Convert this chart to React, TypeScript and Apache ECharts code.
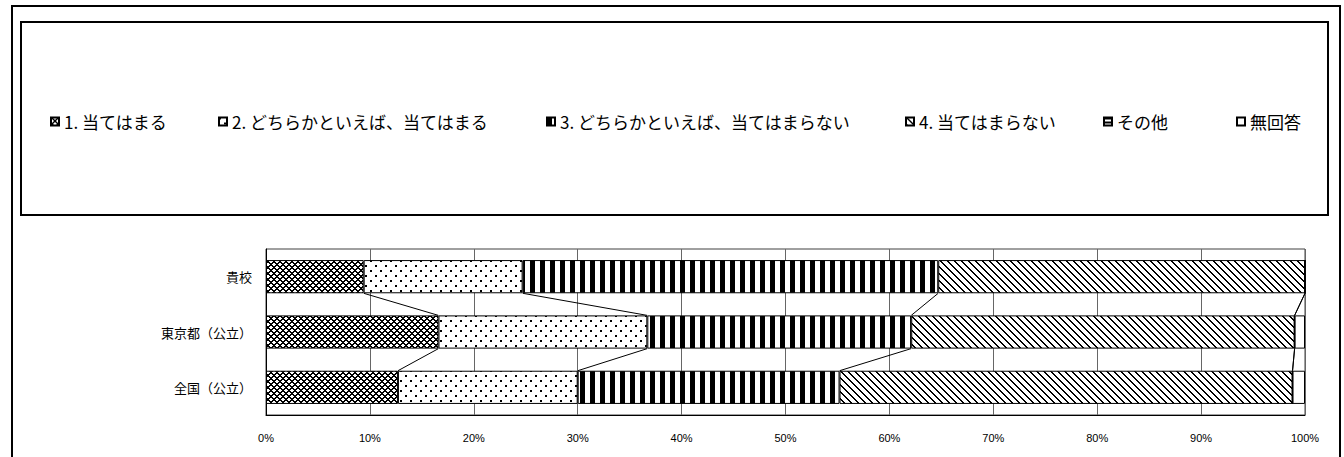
import React, { useEffect, useRef } from "react";
import * as echarts from "echarts";

const categories = ["貴校", "東京都（公立）", "全国（公立）"];
const seriesNames = [
  "1. 当てはまる",
  "2. どちらかといえば、当てはまる",
  "3. どちらかといえば、当てはまらない",
  "4. 当てはまらない",
  "その他",
  "無回答",
];
const s1 = [9.4, 16.6, 12.7];
const s2 = [15.3, 20.1, 17.3];
const s3 = [40.0, 25.4, 25.2];
const s4 = [35.3, 36.9, 43.6];
const s5 = [0, 0, 0];
const s6 = [0, 1.0, 1.2];
const seriesValues = [s1, s2, s3, s4, s5, s6];

function makePattern(w: number, h: number, fn: (x: number, y: number) => boolean) {
  const c = document.createElement("canvas");
  c.width = w;
  c.height = h;
  const ctx = c.getContext("2d")!;
  ctx.fillStyle = "#fff";
  ctx.fillRect(0, 0, w, h);
  ctx.fillStyle = "#000";
  for (let y = 0; y < h; y++)
    for (let x = 0; x < w; x++) if (fn(x, y)) ctx.fillRect(x, y, 1, 1);
  return { image: c, repeat: "repeat" as const };
}

export default function App() {
  const ref = useRef<HTMLDivElement>(null);
  useEffect(() => {
    if (!ref.current) return;
    const chart = echarts.init(ref.current, undefined, { renderer: "svg" });

    const patterns = [
      makePattern(6, 6, (x, y) => (x + y) % 6 < 2 || (x - y + 12) % 6 < 2),
      makePattern(10, 10, (x, y) => (x < 2 && y < 2) || (x >= 5 && x < 7 && y >= 5 && y < 7)),
      makePattern(10, 4, (x) => x < 5),
      makePattern(7, 7, (x, y) => (x - y + 14) % 7 < 2),
      makePattern(4, 4, (x, y) => y < 2),
      "#ffffff",
    ];

    const legendLefts = [50, 218, 546, 905, 1103, 1236];

    const lineData: number[][] = [];
    for (let i = 0; i < categories.length - 1; i++) {
      let cA = 0;
      let cB = 0;
      for (let k = 0; k < 5; k++) {
        cA += seriesValues[k][i];
        cB += seriesValues[k][i + 1];
        lineData.push([cA, cB, i]);
      }
    }

    const barSeries = seriesNames.map((name, k) => ({
      name,
      type: "bar",
      stack: "total",
      barWidth: "60%",
      data: seriesValues[k],
      itemStyle: { color: patterns[k] as any, borderColor: "#000", borderWidth: 1 },
      emphasis: { disabled: true },
      z: 2,
    }));

    chart.setOption({
      animation: false,
      textStyle: { fontFamily: "'Noto Sans CJK JP', sans-serif" },
      grid: {
        left: 266,
        right: 39,
        top: 249,
        bottom: 42,
        show: true,
        borderColor: "#404040",
        borderWidth: 1,
        containLabel: false,
      },
      legend: seriesNames.map((n, k) => ({
        data: [n],
        left: legendLefts[k],
        top: 113,
        padding: 0,
        itemWidth: 8,
        itemHeight: 8,
        icon: "rect",
        selectedMode: false,
        textStyle: {
          fontSize: 17,
          color: "#000",
          fontFamily: "'Noto Sans CJK JP', sans-serif",
        },
      })),
      xAxis: {
        type: "value",
        min: 0,
        max: 100,
        interval: 10,
        axisLine: { show: true, lineStyle: { color: "#000" } },
        axisTick: { show: false },
        splitLine: { show: true, lineStyle: { color: "#666", width: 1 } },
        axisLabel: {
          formatter: (v: number) => `${v}%`,
          fontSize: 11,
          color: "#000",
          margin: 17,
          fontFamily: "'Liberation Sans', sans-serif",
        },
      },
      yAxis: {
        type: "category",
        data: categories,
        inverse: true,
        axisLine: { show: true, lineStyle: { color: "#000" } },
        axisTick: { show: false },
        splitLine: { show: false },
        axisLabel: {
          fontSize: 13,
          color: "#000",
          margin: 14,
          fontFamily: "'Noto Sans CJK JP', sans-serif",
        },
      },
      series: [
        ...barSeries,
        {
          type: "custom",
          name: "lines",
          data: lineData,
          encode: { x: [0, 1], y: 2 },
          z: 5,
          silent: true,
          renderItem: (params: any, api: any) => {
            const x0 = api.value(0);
            const x1 = api.value(1);
            const i = api.value(2);
            const p0 = api.coord([x0, i]);
            const p1 = api.coord([x1, i + 1]);
            const band = api.size([0, 1])[1];
            const half = band * 0.3;
            return {
              type: "line",
              shape: { x1: p0[0], y1: p0[1] + half, x2: p1[0], y2: p1[1] - half },
              style: { stroke: "#000", lineWidth: 1 },
            };
          },
        },
      ],
      graphic: [
        {
          type: "rect",
          shape: { x: 12, y: 6, width: 1328, height: 470 },
          style: { fill: "none", stroke: "#000", lineWidth: 2 },
          silent: true,
          z: -1,
        },
        {
          type: "rect",
          shape: { x: 21, y: 22, width: 1307, height: 193 },
          style: { fill: "none", stroke: "#000", lineWidth: 2 },
          silent: true,
          z: -1,
        },
      ],
    } as any);

    return () => chart.dispose();
  }, []);

  return (
    <div
      ref={ref}
      style={{ position: "fixed", left: 0, top: 0, width: 1344, height: 457, background: "#fff" }}
    />
  );
}
